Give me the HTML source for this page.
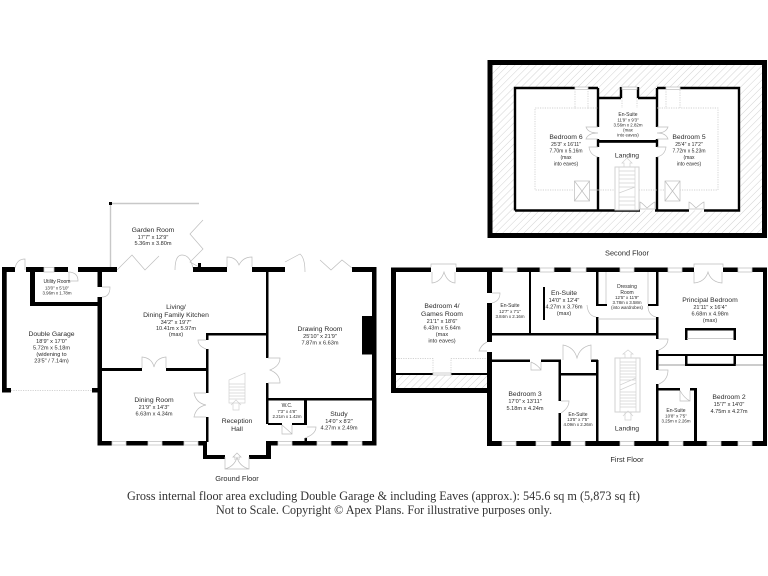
<!DOCTYPE html>
<html><head><meta charset="utf-8"><title>Floor plan</title>
<style>
html,body{margin:0;padding:0;background:#fff}
svg{display:block;filter:blur(.3px)}
text{font-family:"Liberation Sans",sans-serif;fill:#2a2a2a;text-anchor:middle}
.n{font-size:6.8px}.d{font-size:5.6px}.s{font-size:5px}.x{font-size:4.400px}
.f{font-size:7.400px}
.t{font-family:"Liberation Serif",serif;font-size:12.200px;fill:#333}
.w{fill:#000}
.g{fill:#fff;stroke:#c4c4c4;stroke-width:.8}
.a{fill:none;stroke:#bdbdbd;stroke-width:.7}
.l{fill:none;stroke:#d2d2d2;stroke-width:.7}
.p{fill:none;stroke:#c4c4c4;stroke-width:.7;stroke-dasharray:1.200 1.200}
</style></head><body>
<svg width="768" height="576" viewBox="0 0 768 576" xmlns="http://www.w3.org/2000/svg">
<defs><pattern id="h" width="5" height="5" patternUnits="userSpaceOnUse" patternTransform="rotate(45)"><rect width="5" height="5" fill="#fff"/><line x1="0" y1="0" x2="0" y2="5" stroke="#d2d2d2" stroke-width="1"/></pattern></defs>

<!-- SECOND FLOOR -->
<rect x="490" y="62.500" width="274.500" height="173" fill="url(#h)" stroke="#000" stroke-width="5"/>
<path d="M515 88H598V97.500H621V88H638V97.500H657V88H739V210.500H515Z" fill="#fff"/>
<path d="M515 210.500V88H575M588 88H598M598 88V127M598 139V147M598 157V210.500M598 98H621M621 87V98M638 87V98M638 98H657M657 88V127M657 139V147M657 157V210.500M657 88H666M680 88H739V210.500H704M689 210.500H655M640 210.500H515" fill="none" stroke="#000" stroke-width="2.400"/>
<rect x="597" y="140" width="61" height="2.800" class="w"/>
<rect class="g" x="575" y="87" width="13" height="2.400"/>
<rect class="g" x="666" y="87" width="14" height="2.400"/>
<rect class="g" x="622" y="87" width="15" height="2.400"/>
<path class="p" d="M575 89V108H535V190H718V108H680V89M666 89V108H680M575 108H588V89M588 108H598M657 108H666M598 190H575M622 98V108M637 98V108"/>
<rect x="574.500" y="181" width="15" height="20" fill="#fff" stroke="#bdbdbd" stroke-width=".7"/><path class="a" d="M574.500 181L589.500 201M589.500 181L574.500 201"/>
<rect x="665" y="181" width="15" height="20" fill="#fff" stroke="#bdbdbd" stroke-width=".7"/><path class="a" d="M665 181L680 201M680 181L665 201"/>
<rect x="615" y="167" width="24" height="43" fill="#fff" stroke="#d2d2d2" stroke-width="1"/>
<path class="l" d="M619 167V210M635 167V210M619 171H635M619 175H635M619 179H635M619 183H635M619 187H635L619 193M619 197H635M619 201H635M619 205H635M624 167V163H622L627 158L632 163H630V167"/>
<path class="a" d="M640 209V202Q641 202 647 208Q654 202 655 202V209H640ZM689 209V202Q690 202 696 208Q703 202 704 202V209H689Z"/>
<path class="a" d="M598 127H586Q588 133 598 133M598 139H586Q588 133 598 133M657 127H668Q666 133 657 133M657 139H668Q666 133 657 133M598 147H589Q590 155 598 157M657 147H666Q665 155 657 157"/>
<text class="n" x="566" y="139">Bedroom 6</text><text class="s" x="566" y="146">25'3" x 16'11"</text><text class="s" x="566" y="152.500">7.70m x 5.16m</text><text class="s" x="566" y="159">(max</text><text class="s" x="566" y="165.500">into eaves)</text>
<text class="s" x="628" y="116">En-Suite</text><text class="x" x="628" y="121.500">11'9" x 9'3"</text><text class="x" x="628" y="126.500">3.56m x 2.82m</text><text class="x" x="628" y="131.500">(max</text><text class="x" x="628" y="136.500">into eaves)</text>
<text class="n" x="627" y="157.500">Landing</text>
<text class="n" x="689" y="139">Bedroom 5</text><text class="s" x="689" y="146">25'4" x 17'2"</text><text class="s" x="689" y="152.500">7.72m x 5.23m</text><text class="s" x="689" y="159">(max</text><text class="s" x="689" y="165.500">into eaves)</text>
<text class="f" x="627" y="255.500">Second Floor</text>

<!-- GROUND FLOOR -->
<path d="M110.500 267V203.500H199" fill="none" stroke="#c8c8c8" stroke-width="1.400"/>
<rect x="109" y="202" width="3" height="3" class="w"/>
<path class="a" d="M117 270L132 255L145 270L159 256M203 220L190 234L203 249L190 262L199 267M175 270Q175 255 182 255Q190 255 193 268"/>
<g class="w">
<rect x="2" y="267" width="13" height="5"/><rect x="2" y="267" width="4.700" height="125.500"/><rect x="2" y="388" width="9" height="4.500"/>
<rect x="26" y="267" width="18" height="5"/><rect x="54" y="267" width="14" height="5"/><rect x="78" y="267" width="39" height="5"/>
<rect x="30" y="272" width="5" height="34"/><rect x="30" y="302" width="72" height="4"/>
<rect x="97.500" y="272" width="4.500" height="15"/><rect x="97.500" y="297" width="4.500" height="148.500"/>
<rect x="92" y="388" width="8" height="4.500"/>
<rect x="102" y="368" width="40" height="3"/><rect x="166" y="368" width="42" height="3"/>
<rect x="97.500" y="441" width="14.500" height="4.500"/><rect x="126" y="441" width="22" height="4.500"/><rect x="162" y="441" width="22" height="4.500"/>
<rect x="198" y="441" width="9" height="4.500"/><rect x="203" y="441" width="4" height="18"/><rect x="203" y="455" width="22" height="4"/>
<rect x="249" y="455" width="22" height="4"/><rect x="266" y="441" width="5" height="18"/><rect x="266" y="441" width="12" height="4.500"/>
<rect x="292" y="441" width="25" height="4.500"/><rect x="331" y="441" width="17" height="4.500"/><rect x="362" y="441" width="14.500" height="4.500"/>
<rect x="372" y="267" width="4.500" height="178.500"/><rect x="352" y="267" width="24.500" height="5"/>
<rect x="193" y="267" width="34" height="5"/><rect x="198" y="263" width="3" height="5"/><rect x="252" y="267" width="33" height="5"/>
<rect x="362" y="316" width="10.500" height="38.500"/>
<rect x="266" y="271" width="2.500" height="87"/><rect x="266" y="383" width="2.500" height="41"/>
<rect x="206" y="333" width="62" height="2.500"/><rect x="206" y="333" width="2.500" height="7"/><rect x="206" y="349" width="2.500" height="44"/><rect x="206" y="417" width="2.500" height="25"/>
<rect x="268" y="398" width="104" height="2.500"/><rect x="304" y="400" width="3" height="25"/><rect x="268" y="423" width="14" height="2"/><rect x="292" y="423" width="15" height="2"/><rect x="304.500" y="438" width="2.500" height="3"/>
</g>
<rect class="g" x="44" y="267.500" width="10" height="4.500"/>
<path class="a" d="M15 268Q17 259 25 259V270M68 272Q78 272 78 281H69V272M102 287H110Q110 297 102 297"/>
<path class="p" d="M11 390.500H92"/>
<path class="a" d="M142 368V357Q152 358 154 367Q156 358 166 357V368"/>
<rect class="g" x="112" y="441.500" width="14" height="3.500"/><rect class="g" x="148" y="441.500" width="14" height="3.500"/><rect class="g" x="184" y="441.500" width="14" height="3.500"/>
<rect class="g" x="278" y="441.500" width="14" height="3.500"/><rect class="g" x="317" y="441.500" width="14" height="3.500"/><rect class="g" x="348" y="441.500" width="14" height="3.500"/>
<path class="a" d="M225 457V469H249V457M225 469Q235 466 237 457Q239 466 249 469"/>
<path class="a" d="M235 460V457H233L237 453L241 457H239V460"/>
<path class="a" d="M227 267V257Q236 257 239 265Q243 257 252 257V267M285 262L300 254Q305 258 305 272M320 260L331 270L342 260L352 268"/>
<path class="a" d="M206 340H198Q198 346 206 349M206 393H194Q196 403 206 405Q196 407 194 417H206M268 358H280Q280 366 270 370Q280 374 280 383H268M282 425V434H292V425M282 425Q290 432 292 434M307 427H316Q316 434 305 438"/>
<path class="l" d="M229 380L245 373V403H229ZM229 384H245M229 387H245M229 390H245M229 393H245M229 396H245M229 399H245M233 403V410H239V403M231 405L236 400L241 405"/>
<text class="n" x="153" y="232">Garden Room</text><text class="d" x="153" y="239">17'7" x 12'9"</text><text class="d" x="153" y="245">5.36m x 3.80m</text>
<text class="s" x="57" y="283">Utility Room</text><text class="x" x="57" y="289.500">13'0" x 5'10"</text><text class="x" x="57" y="294.500">3.96m x 1.78m</text>
<text class="n" x="176" y="309">Living/</text><text class="n" x="176" y="317">Dining Family Kitchen</text><text class="d" x="176" y="324">34'2" x 19'7"</text><text class="d" x="176" y="330">10.41m x 5.97m</text><text class="d" x="176" y="336">(max)</text>
<text class="n" x="51.500" y="336">Double Garage</text><text class="d" x="51.500" y="343">18'9" x 17'0"</text><text class="d" x="51.500" y="349.500">5.72m x 5.18m</text><text class="d" x="51.500" y="356">(widening to</text><text class="d" x="51.500" y="362.500">23'5" / 7.14m)</text>
<text class="n" x="154" y="402">Dining Room</text><text class="d" x="154" y="409">21'9" x 14'3"</text><text class="d" x="154" y="415.500">6.63m x 4.34m</text>
<text class="n" x="320" y="331">Drawing Room</text><text class="d" x="320" y="338">25'10" x 21'9"</text><text class="d" x="320" y="344.500">7.87m x 6.63m</text>
<text class="s" x="287" y="407">W.C.</text><text class="x" x="287" y="413">7'3" x 4'8"</text><text class="x" x="287" y="418">2.21m x 1.42m</text>
<text class="n" x="339" y="416">Study</text><text class="d" x="339" y="423">14'0" x 8'2"</text><text class="d" x="339" y="429.500">4.27m x 2.49m</text>
<text class="n" x="237" y="423">Reception</text><text class="n" x="237" y="431">Hall</text>
<text class="f" x="237" y="481">Ground Floor</text>

<!-- FIRST FLOOR -->
<rect x="396" y="375" width="91" height="13.500" fill="url(#h)"/>
<g class="w">
<rect x="391" y="267.500" width="40" height="4.500"/><rect x="391" y="267.500" width="5" height="125.500"/><rect x="391" y="388" width="100" height="5"/>
<rect x="456" y="267.500" width="47" height="4.500"/><rect x="487" y="272" width="5" height="21"/><rect x="487" y="303" width="5" height="39"/><rect x="487" y="352" width="5" height="94"/><rect x="487" y="441" width="15" height="5"/>
<rect x="517" y="267.500" width="23" height="4.500"/><rect x="554" y="267.500" width="17" height="4.500"/><rect x="586" y="267.500" width="34" height="4.500"/><rect x="634" y="267.500" width="34" height="4.500"/><rect x="682" y="267.500" width="12" height="4.500"/><rect x="723" y="267.500" width="15" height="4.500"/><rect x="752" y="267.500" width="15" height="4.500"/>
<rect x="763" y="267.500" width="4" height="178.500"/>
<rect x="516" y="441" width="20" height="5"/><rect x="551" y="441" width="20" height="5"/><rect x="585" y="441" width="35" height="5"/><rect x="634" y="441" width="35" height="5"/><rect x="683" y="441" width="24" height="5"/><rect x="721" y="441" width="17" height="5"/><rect x="752" y="441" width="15" height="5"/>
<rect x="396" y="373" width="37" height="2"/><rect x="451" y="373" width="36" height="2"/>
<rect x="492" y="333" width="166" height="2.500"/><rect x="529" y="272" width="2" height="61"/><rect x="543" y="287" width="2" height="33"/>
<rect x="492" y="359.500" width="38" height="2.500"/><rect x="541" y="359.500" width="20" height="2.500"/><rect x="558.500" y="360" width="2.500" height="41"/><rect x="558.500" y="413" width="2.500" height="28"/>
<rect x="561" y="373" width="37" height="2.500"/><rect x="591" y="359.500" width="7" height="2.500"/><rect x="596" y="360" width="2.500" height="81"/>
<rect x="596" y="272" width="2.500" height="34"/><rect x="596" y="304" width="11" height="2"/><rect x="596" y="317" width="2.500" height="17"/>
<rect x="648" y="304" width="10" height="2"/><rect x="656" y="272" width="2.500" height="34"/><rect x="656" y="317" width="2.500" height="22"/><rect x="656" y="350" width="2.500" height="20"/><rect x="656" y="384" width="2.500" height="57"/>
<rect x="656" y="388" width="24" height="2.500"/><rect x="690" y="388" width="7" height="2.500"/><rect x="694" y="388" width="3" height="53"/>
<rect x="656" y="354" width="107" height="2"/>
<rect x="685" y="328" width="51" height="2.500"/><rect x="685" y="328" width="2.500" height="12"/><rect x="733.500" y="328" width="2.500" height="12"/>
<rect x="685" y="355" width="2.500" height="11"/><rect x="733.500" y="355" width="2.500" height="11"/><rect x="685" y="363.800" width="51" height="2.200"/>
</g>
<rect class="g" x="503" y="268" width="14" height="4"/><rect class="g" x="540" y="268" width="14" height="4"/><rect class="g" x="571" y="268" width="15" height="4"/><rect class="g" x="620" y="268" width="14" height="4"/><rect class="g" x="668" y="268" width="14" height="4"/><rect class="g" x="738" y="268" width="14" height="4"/>
<rect class="g" x="502" y="441.500" width="14" height="4"/><rect class="g" x="536" y="441.500" width="15" height="4"/><rect class="g" x="571" y="441.500" width="14" height="4"/><rect class="g" x="620" y="441.500" width="14" height="4"/><rect class="g" x="669" y="441.500" width="14" height="4"/><rect class="g" x="707" y="441.500" width="14" height="4"/><rect class="g" x="738" y="441.500" width="14" height="4"/>
<rect class="g" x="433" y="373" width="18" height="2"/>
<path class="p" d="M396 358.500H433V373M451 373V358.500H487"/>
<path class="a" d="M431 267V264H456V267M432 272V283Q441 282 444 272Q447 282 455 283V272"/>
<path class="a" d="M492 293H500Q500 301 492 303M487 342Q481 345 479 351H487"/>
<path class="a" d="M531 362V370H541V362M531 362Q538 365 541 370M563 360V345Q574 347 577 358Q580 347 591 345V360M561 401H569Q569 408 561 413"/>
<path class="a" d="M606 272V304M648 272V304M598 319H656M587 305Q588 316 596 317M648 306Q648 315 656 317M658.500 339H668Q668 346 659 350M658.500 370H668Q668 380 659 384M680 390.500V401H690V390.500M680 390.500Q684 398 690 401M687 338.500H733"/>
<path d="M658 365H685M735 365H763" stroke="#777" stroke-width=".7" fill="none"/>
<path class="a" d="M694 267V264H723V267M694 272V283Q705 282 708 272Q711 282 722 283V272"/>
<rect x="615" y="358" width="25" height="54" fill="#fff" stroke="#d2d2d2" stroke-width="1"/>
<path class="l" d="M620 358V412M636 358V412M620 362H636M620 365H636M620 368H636M620 371H636M620 374H636M620 377H636M620 380H636M620 385L636 378M620 390L636 383M620 392H636M620 395H636M620 398H636M620 401H636M620 404H636M620 407H636M625 358V354H623L628 350L633 354H631V358M625 412V420H631V412M623 416L628 411L633 416"/>
<text class="n" x="442" y="308">Bedroom 4/</text><text class="n" x="442" y="316">Games Room</text><text class="d" x="442" y="323">21'1" x 18'6"</text><text class="d" x="442" y="329.500">6.43m x 5.64m</text><text class="d" x="442" y="336">(max</text><text class="d" x="442" y="342.500">into eaves)</text>
<text class="s" x="510" y="307">En-Suite</text><text class="x" x="510" y="313">12'7" x 7'1"</text><text class="x" x="510" y="318">3.84m x 2.16m</text>
<text class="n" x="564" y="295">En-Suite</text><text class="d" x="564" y="302">14'0" x 12'4"</text><text class="d" x="564" y="308.500">4.27m x 3.76m</text><text class="d" x="564" y="315">(max)</text>
<text class="s" x="627" y="288">Dressing</text><text class="s" x="627" y="294">Room</text><text class="x" x="627" y="299">12'5" x 11'9"</text><text class="x" x="627" y="304">3.78m x 3.58m</text><text class="x" x="627" y="309">(into wardrobes)</text>
<text class="n" x="710" y="302">Principal Bedroom</text><text class="d" x="710" y="309">21'11" x 16'4"</text><text class="d" x="710" y="315.500">6.68m x 4.98m</text><text class="d" x="710" y="322">(max)</text>
<text class="n" x="525" y="396">Bedroom 3</text><text class="d" x="525" y="403">17'0" x 13'11"</text><text class="d" x="525" y="410">5.18m x 4.24m</text>
<text class="s" x="578" y="416">En-Suite</text><text class="x" x="578" y="421">13'5" x 7'5"</text><text class="x" x="578" y="426">4.09m x 2.26m</text>
<text class="n" x="627" y="430.500">Landing</text>
<text class="s" x="676" y="412">En-Suite</text><text class="x" x="676" y="417.500">10'8" x 7'5"</text><text class="x" x="676" y="422.500">3.25m x 2.26m</text>
<text class="n" x="729" y="399">Bedroom 2</text><text class="d" x="729" y="406">15'7" x 14'0"</text><text class="d" x="729" y="413">4.75m x 4.27m</text>
<text class="f" x="627" y="462">First Floor</text>

<text class="t" x="383.500" y="500" textLength="513" lengthAdjust="spacingAndGlyphs">Gross internal floor area excluding Double Garage &amp; including Eaves (approx.): 545.6 sq m (5,873 sq ft)</text>
<text class="t" x="384" y="514" textLength="336" lengthAdjust="spacingAndGlyphs">Not to Scale. Copyright © Apex Plans. For illustrative purposes only.</text>
</svg>
</body></html>
